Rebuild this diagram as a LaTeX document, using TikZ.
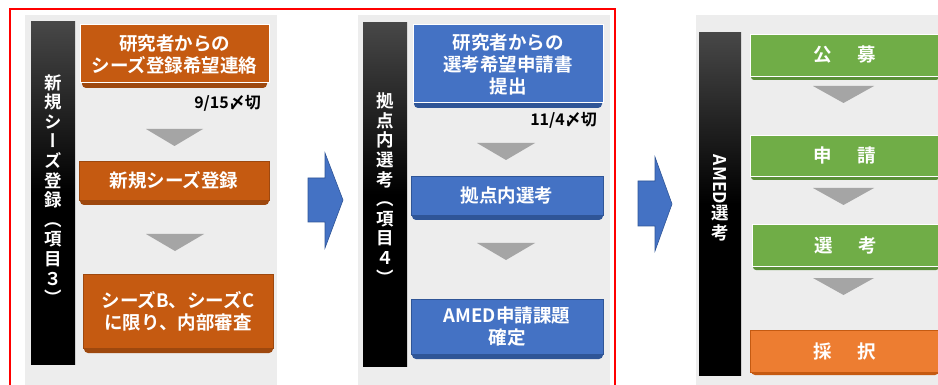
\documentclass[tikz,border=0pt]{standalone}
\usepackage{fontspec}
\usepackage{graphicx}
\newfontfamily\jp{Noto Sans CJK JP}[BoldFont={Noto Sans CJK JP Bold}]
\newfontfamily\jpv{Noto Sans CJK JP}[BoldFont={Noto Sans CJK JP Bold},RawFeature=+vert]
\definecolor{panelgray}{HTML}{EDEDED}
\definecolor{darkor}{HTML}{C55A11}
\definecolor{darkorsh}{HTML}{9E480E}
\definecolor{myblue}{HTML}{4472C4}
\definecolor{mybluesh}{HTML}{2F5597}
\definecolor{mygreen}{HTML}{70AD47}
\definecolor{mygreensh}{HTML}{5A8F38}
\definecolor{myorange}{HTML}{ED7D31}
\definecolor{myorangesh}{HTML}{C55A11}
\definecolor{trigray}{HTML}{A5A5A5}
\tikzset{
  stepbox/.style={inner sep=0pt, align=center, text=white, font=\jp\bfseries\fontsize{18.5}{22}\selectfont},
  vtext/.style={inner sep=0pt, align=center, text=white, font=\jpv\bfseries\fontsize{17.5}{19.6}\selectfont},
  datelbl/.style={inner sep=0pt, anchor=east, text=black, font=\jp\bfseries\fontsize{16}{18}\selectfont},
  tri/.style={fill=trigray},
  bigarrow/.style={fill=myblue, draw=mybluesh, line width=0.6pt},
  bar/.style={top color=black!72, bottom color=black, middle color=black},
  panel/.style={fill=panelgray}
}
\begin{document}
\begin{tikzpicture}[x=1pt,y=-1pt]
\path[use as bounding box] (0,0) rectangle (938,385);
\clip (0,0) rectangle (938,385);
\fill[white] (0,0) rectangle (938,385);
% panels
\fill[panel] (25,15) rectangle (277,390);
\fill[panel] (358,15) rectangle (610,390);
\fill[panel] (696,15) rectangle (945,390);
% red frame
\draw[red, line width=2pt] (9.5,9) rectangle (615,400);
% black bars
\shade[bar] (31,22) rectangle (75,364);
\shade[bar] (363,23) rectangle (407,366);
\shade[bar] (699,33) rectangle (741,375);
\node[vtext] (v1) at (53,189.5) {新\\規\\シ\\ー\\ズ\\登\\録\\（\\項\\目\\３\\）};
\node[vtext] (v2) at (385,188.5) {拠\\点\\内\\選\\考\\（\\項\\目\\４\\）};
\node[vtext] (v3) at (720,198) {\rotatebox[origin=c]{-90}{\jp\bfseries AMED}\\選\\考};
% panel 1
\fill[darkorsh, rounded corners=4pt] (82,70) rectangle (267,88);
\node[stepbox, fill=darkor, draw=white, line width=1pt, minimum width=189pt, minimum height=58pt] (a1) at (174.5,54) {研究者からの\\シーズ登録希望連絡};
\node[datelbl] (d1) at (261,103) {9/15〆切};
\fill[tri] (146,129) -- (203,129) -- (174.5,146) -- cycle;
\fill[darkorsh, rounded corners=4pt] (80,190) rectangle (269,205);
\node[stepbox, fill=darkor, draw=darkorsh, line width=0.5pt, minimum width=190pt, minimum height=39pt] (a2) at (174,180.5) {新規シーズ登録};
\fill[tri] (146,234) -- (204,234) -- (175,251) -- cycle;
\fill[darkorsh, rounded corners=4pt] (84,338) rectangle (273,353);
\node[stepbox, fill=darkor, draw=darkorsh, line width=0.5pt, minimum width=190pt, minimum height=74pt] (a3) at (178,311) {シーズB、シーズC\\に限り、内部審査};
% panel 2
\fill[mybluesh, rounded corners=4pt] (414,93) rectangle (602,108);
\node[stepbox, fill=myblue, draw=white, line width=1pt, minimum width=190pt, minimum height=78pt] (b1) at (508,64) {研究者からの\\選考希望申請書\\提出};
\node[datelbl] (d2) at (597,120) {11/4〆切};
\fill[tri] (477,143) -- (535,143) -- (506,160) -- cycle;
\fill[mybluesh, rounded corners=4pt] (412,205) rectangle (603,220);
\node[stepbox, fill=myblue, draw=mybluesh, line width=0.5pt, minimum width=192pt, minimum height=39pt] (b2) at (507,195.5) {拠点内選考};
\fill[tri] (477,243) -- (535,243) -- (506,260) -- cycle;
\fill[mybluesh, rounded corners=4pt] (412,344) rectangle (603,359);
\node[stepbox, fill=myblue, draw=mybluesh, line width=0.5pt, minimum width=192pt, minimum height=55pt] (b3) at (507,326.5) {AMED申請課題\\確定};
% panel 3
\fill[mygreensh, rounded corners=3pt] (751,70) rectangle (939,80);
\node[stepbox, fill=mygreen, draw=white, line width=0.8pt, minimum width=189pt, minimum height=42pt] (c1) at (844.5,55) {公\hspace{26pt}募};
\fill[tri] (813,86) -- (874,86) -- (843.5,103) -- cycle;
\fill[mygreensh, rounded corners=3pt] (751,170) rectangle (939,180);
\node[stepbox, fill=mygreen, draw=white, line width=0.8pt, minimum width=189pt, minimum height=41pt] (c2) at (844.5,155.5) {申\hspace{26pt}請};
\fill[tri] (813,188) -- (874,188) -- (843.5,205) -- cycle;
\fill[mygreensh, rounded corners=3pt] (753,260) rectangle (939,270);
\node[stepbox, fill=mygreen, draw=white, line width=0.8pt, minimum width=187pt, minimum height=42pt] (c3) at (845.5,245) {選\hspace{26pt}考};
\fill[tri] (813,278) -- (874,278) -- (843.5,295) -- cycle;
\fill[myorangesh, rounded corners=4pt] (751,362) rectangle (939,375);
\node[stepbox, fill=myorange, draw=myorangesh, line width=0.5pt, minimum width=189pt, minimum height=42pt] (c4) at (844.5,351) {採\hspace{26pt}択};
% big arrows
\filldraw[bigarrow] (308,178) -- (325,178) -- (325,153) -- (343,200) -- (325,248) -- (325,222) -- (308,222) -- cycle;
\filldraw[bigarrow] (638,181) -- (655,181) -- (655,157) -- (672,204) -- (655,251) -- (655,226) -- (638,226) -- cycle;
\end{tikzpicture}
\end{document}
